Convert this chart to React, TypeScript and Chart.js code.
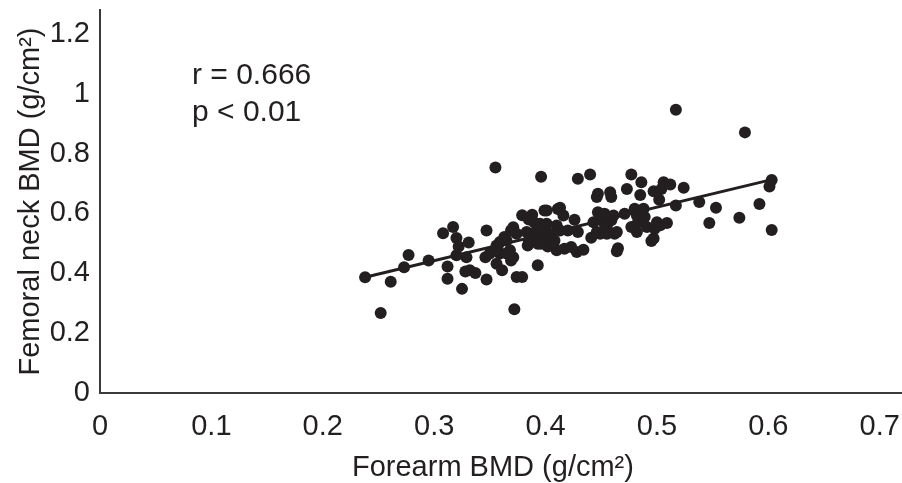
import React, { useEffect, useRef } from "react";
import { Chart, registerables } from "chart.js";

Chart.register(...registerables);

// Forearm BMD (g/cm²) — x values
const forearmBMD: number[] = [
  0.238, 0.252, 0.261, 0.273, 0.277, 0.295, 0.308, 0.317, 0.320, 0.322,
  0.331, 0.312, 0.312, 0.325, 0.320, 0.328, 0.332, 0.337, 0.329, 0.347,
  0.347, 0.346, 0.350, 0.356, 0.359, 0.356, 0.361, 0.357, 0.359, 0.363,
  0.365, 0.365, 0.368, 0.369, 0.369, 0.371, 0.371, 0.374, 0.374, 0.379,
  0.372, 0.355, 0.396, 0.379, 0.388, 0.383, 0.384, 0.385, 0.385, 0.390,
  0.390, 0.392, 0.393, 0.393, 0.395, 0.395, 0.398, 0.398, 0.396, 0.399,
  0.401, 0.401, 0.400, 0.402, 0.404, 0.404, 0.405, 0.407, 0.408, 0.410,
  0.410, 0.411, 0.413, 0.413, 0.416, 0.417, 0.420, 0.423, 0.426, 0.428,
  0.429, 0.429, 0.434, 0.440, 0.441, 0.443, 0.446, 0.446, 0.447, 0.447,
  0.449, 0.449, 0.453, 0.453, 0.455, 0.455, 0.458, 0.459, 0.459, 0.461,
  0.462, 0.464, 0.464, 0.465, 0.471, 0.473, 0.477, 0.477, 0.480, 0.482,
  0.482, 0.483, 0.485, 0.486, 0.488, 0.489, 0.491, 0.495, 0.497, 0.497,
  0.498, 0.500, 0.502, 0.503, 0.504, 0.506, 0.509, 0.512, 0.517, 0.517,
  0.524, 0.538, 0.547, 0.553, 0.574, 0.579, 0.592, 0.601, 0.603, 0.603,
];

// Femoral neck BMD (g/cm²) — y values
const femoralNeckBMD: number[] = [
  0.387, 0.267, 0.372, 0.420, 0.461, 0.443, 0.534, 0.555, 0.518, 0.490,
  0.503, 0.423, 0.382, 0.348, 0.460, 0.406, 0.410, 0.401, 0.454, 0.543,
  0.379, 0.454, 0.466, 0.493, 0.466, 0.432, 0.410, 0.482, 0.505, 0.521,
  0.466, 0.510, 0.477, 0.443, 0.543, 0.454, 0.554, 0.532, 0.388, 0.388,
  0.280, 0.754, 0.723, 0.594, 0.596, 0.538, 0.493, 0.580, 0.510, 0.570,
  0.520, 0.543, 0.499, 0.427, 0.566, 0.550, 0.521, 0.532, 0.499, 0.610,
  0.610, 0.566, 0.550, 0.490, 0.510, 0.521, 0.530, 0.499, 0.510, 0.560,
  0.477, 0.615, 0.619, 0.543, 0.593, 0.482, 0.543, 0.488, 0.579, 0.471,
  0.538, 0.716, 0.479, 0.730, 0.519, 0.571, 0.538, 0.655, 0.666, 0.604,
  0.582, 0.532, 0.599, 0.566, 0.555, 0.532, 0.671, 0.655, 0.577, 0.593,
  0.532, 0.538, 0.474, 0.484, 0.599, 0.682, 0.730, 0.555, 0.616, 0.593,
  0.538, 0.571, 0.662, 0.704, 0.616, 0.588, 0.555, 0.508, 0.516, 0.674,
  0.549, 0.571, 0.646, 0.561, 0.682, 0.704, 0.568, 0.697, 0.627, 0.947,
  0.686, 0.638, 0.568, 0.619, 0.586, 0.871, 0.632, 0.690, 0.712, 0.545,
];

// Regression line end points
const fitX: number[] = [0.238, 0.603];
const fitY: number[] = [0.387, 0.713];

const xTicks: number[] = [0, 0.1, 0.2, 0.3, 0.4, 0.5, 0.6, 0.7];
const yTicks: number[] = [0, 0.2, 0.4, 0.6, 0.8, 1, 1.2];

const annotationLines: string[] = ["r = 0.666", "p < 0.01"];

const xTitle = "Forearm BMD (g/cm²)";
const yTitle = "Femoral neck BMD (g/cm²)";

const INK = "#231f20";
const FONT = "'Liberation Sans', Arial, Helvetica, sans-serif";

export default function App() {
  const canvasRef = useRef<HTMLCanvasElement | null>(null);

  useEffect(() => {
    if (!canvasRef.current) return;

    const annotationPlugin = {
      id: "statsText",
      afterDatasetsDraw(chart: any) {
        const { ctx, scales } = chart;
        ctx.save();
        ctx.fillStyle = INK;
        ctx.font = `30px ${FONT}`;
        ctx.textAlign = "left";
        ctx.textBaseline = "middle";
        const x = scales.x.getPixelForValue(0.0826);
        const y0 = scales.y.getPixelForValue(1.06);
        annotationLines.forEach((t, i) => ctx.fillText(t, x, y0 + i * 37));
        ctx.restore();
      },
    };

    const chart = new Chart(canvasRef.current, {
      type: "scatter",
      data: {
        datasets: [
          {
            type: "line",
            data: fitX.map((x, i) => ({ x, y: fitY[i] })),
            borderColor: INK,
            borderWidth: 3,
            pointRadius: 0,
            fill: false,
          } as any,
          {
            type: "scatter",
            data: forearmBMD.map((x, i) => ({ x, y: femoralNeckBMD[i] })),
            backgroundColor: INK,
            borderColor: INK,
            borderWidth: 0,
            pointRadius: 6,
          },
        ],
      },
      plugins: [annotationPlugin],
      options: {
        animation: false,
        responsive: false,
        events: [],
        layout: { autoPadding: false, padding: { top: 10, right: 0, bottom: 0, left: 0 } },
        plugins: {
          legend: { display: false },
          tooltip: { enabled: false },
        },
        scales: {
          x: {
            type: "linear",
            min: 0,
            max: 0.72,
            afterBuildTicks: (s: any) => {
              s.ticks = xTicks.map((v) => ({ value: v }));
            },
            afterFit: (s: any) => {
              s.height = 90;
              s.paddingLeft = 0;
              s.paddingRight = 0;
            },
            grid: { display: false, drawTicks: false },
            border: { display: true, color: "#3a3a3a", width: 2 },
            ticks: {
              padding: 17,
              color: INK,
              font: { family: FONT, size: 29 },
              callback: (v: any) => String(Math.round(Number(v) * 10) / 10),
              maxRotation: 0,
              autoSkip: false,
            },
            title: {
              display: true,
              text: xTitle + "\u00a0\u00a0",
              color: INK,
              font: { family: FONT, size: 29 },
              padding: { top: 0, bottom: -2 },
            },
          },
          y: {
            type: "linear",
            min: 0,
            max: 1.28,
            afterBuildTicks: (s: any) => {
              s.ticks = yTicks.map((v) => ({ value: v }));
            },
            afterFit: (s: any) => {
              s.width = 100;
              s.paddingTop = 0;
              s.paddingBottom = 0;
            },
            grid: { display: false, drawTicks: false },
            border: { display: true, color: "#3a3a3a", width: 2 },
            ticks: {
              padding: 10,
              color: INK,
              font: { family: FONT, size: 29 },
              callback: (v: any) => String(Math.round(Number(v) * 10) / 10),
              autoSkip: false,
            },
            title: {
              display: true,
              text: yTitle,
              color: INK,
              font: { family: FONT, size: 29 },
              padding: { top: 14, bottom: 0 },
            },
          },
        },
      },
    });

    return () => chart.destroy();
  }, []);

  return (
    <div style={{ position: "absolute", left: 0, top: 0, width: 902, height: 483, background: "#fff" }}>
      <canvas ref={canvasRef} width={902} height={483} style={{ display: "block" }} />
    </div>
  );
}
